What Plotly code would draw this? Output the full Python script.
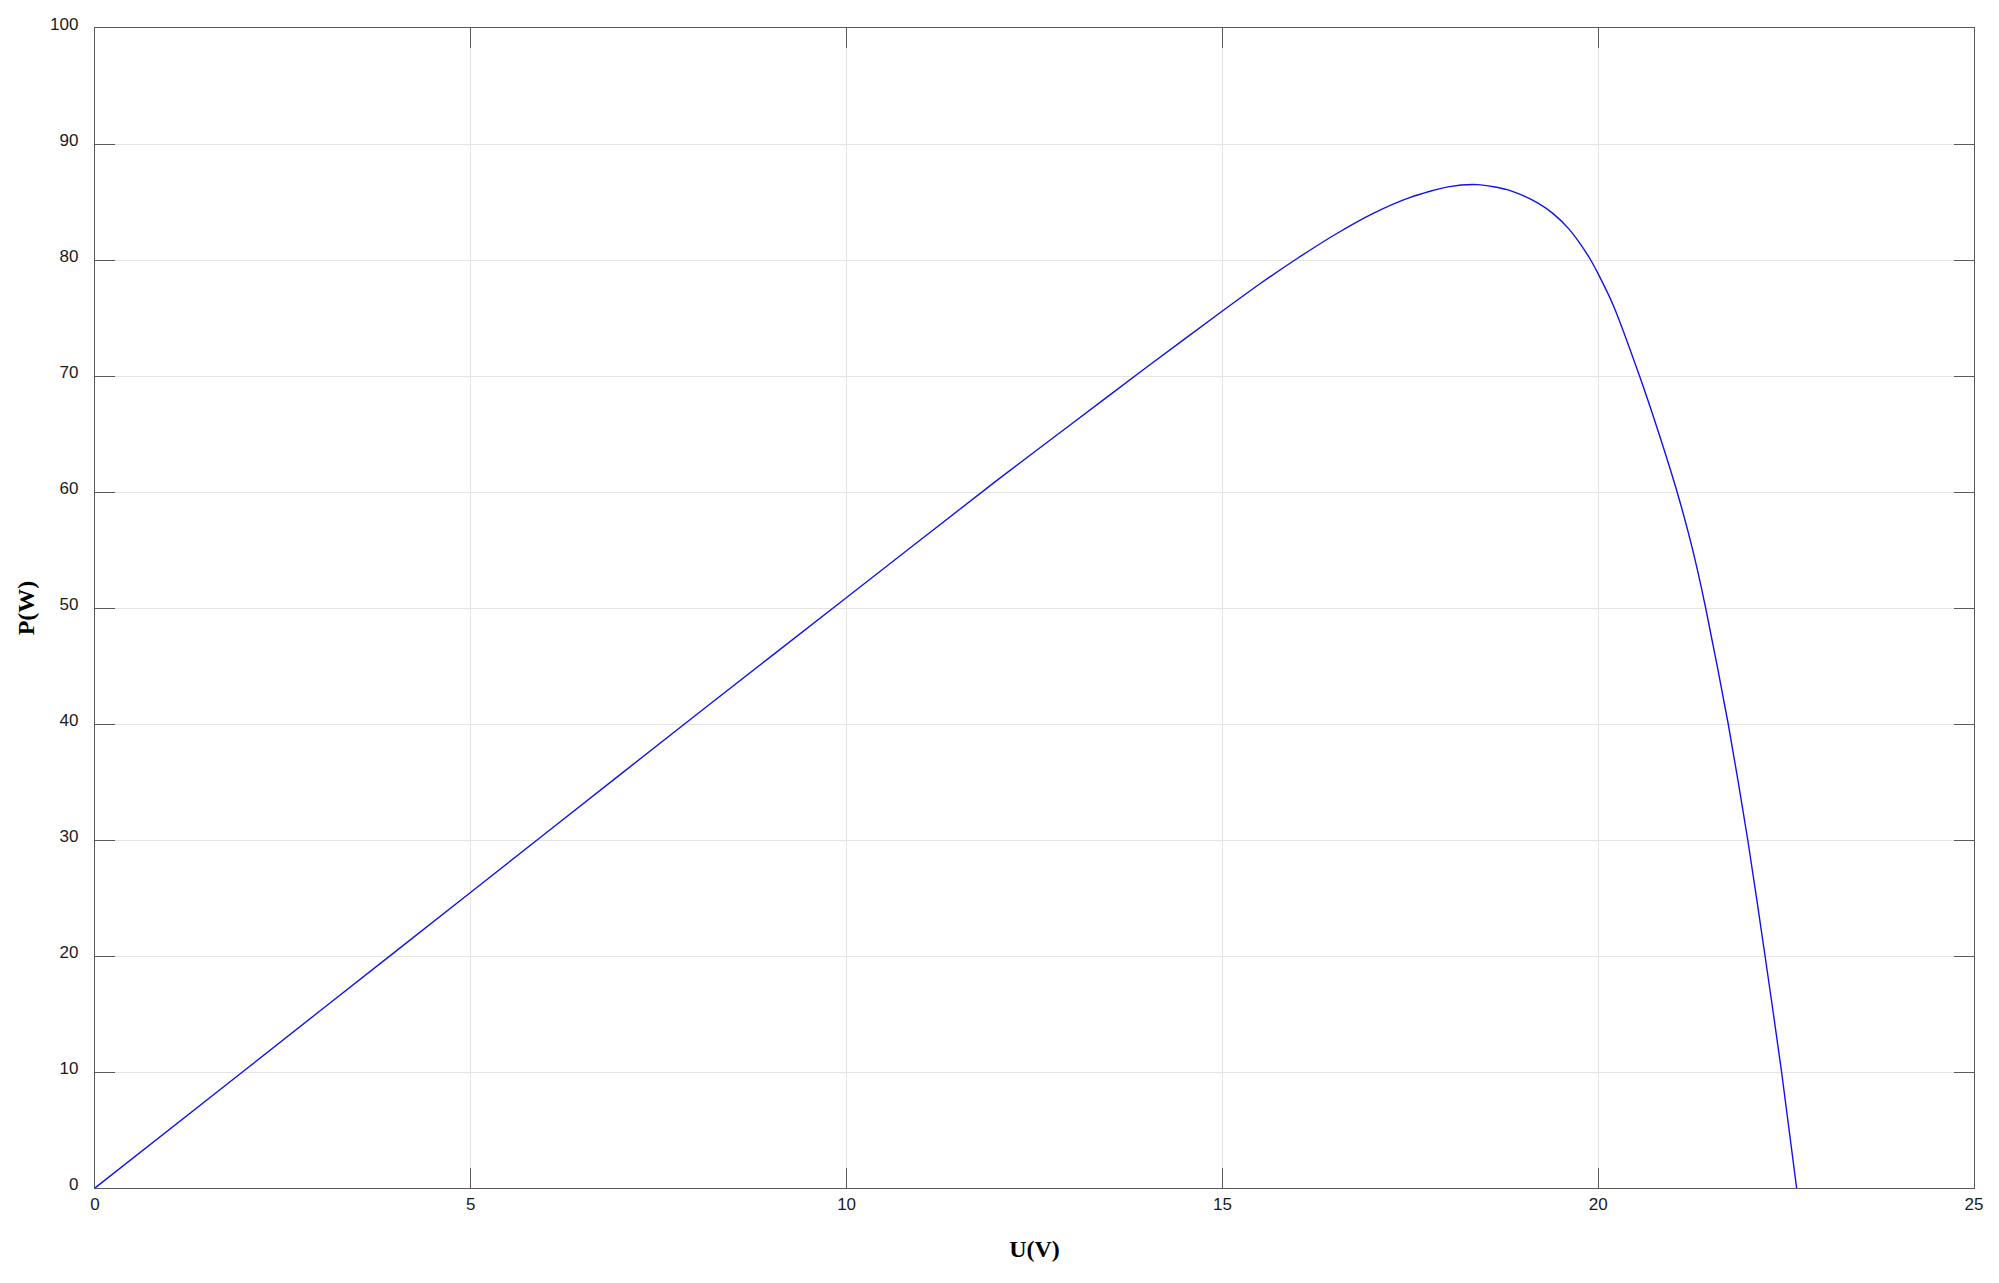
import plotly.graph_objects as go

# Curva P-V del panel
tension_v = [0, 2, 4, 6, 8, 10, 12, 13, 14, 15, 15.5, 16, 16.5, 17, 17.5, 18, 18.4,
             18.8, 19.0, 19.2, 19.4, 19.6, 19.75, 19.9, 20.0, 20.2, 20.55, 20.8, 21.05,
             21.25, 21.43, 21.73, 21.99, 22.22, 22.44, 22.64]
potencia_w = [0, 10.2, 20.4, 30.6, 40.8, 50.9, 61.0, 65.9, 70.8, 75.6, 77.95, 80.15,
              82.2, 84.0, 85.4, 86.3, 86.5, 86.05, 85.55, 84.9, 84.0, 82.75, 81.5, 80.0,
              78.8, 76.1, 70.0, 65.2, 60.0, 55.2, 50.0, 40.0, 30.0, 20.0, 10.0, 0]

x_ticks = [0, 5, 10, 15, 20, 25]
y_ticks = [0, 10, 20, 30, 40, 50, 60, 70, 80, 90, 100]

fig = go.Figure()

fig.add_trace(go.Scatter(x=tension_v, y=potencia_w, mode='lines',
                         line=dict(color='#1010f0', width=1.4, shape='spline', smoothing=0.7),
                         showlegend=False))

fuente_ticks = dict(family='Liberation Sans Narrow, Arial Narrow, Liberation Sans, Arial',
                    size=17, color='#1a1a1a')
fuente_titulo = dict(family='Liberation Serif, Times New Roman, serif', size=24, color='black')

ejes = dict(showline=True, linecolor='#5a5a5a', linewidth=1.3, mirror='ticks',
            ticks='inside', ticklen=20, tickwidth=1.3, tickcolor='#5a5a5a',
            showgrid=True, gridcolor='#e4e4e4', gridwidth=1, zeroline=False,
            tickfont=fuente_ticks, automargin=False)

fig.update_xaxes(range=[0, 25], tickvals=x_ticks, ticklabelstandoff=0,
                 title=dict(text='<b>U(V)</b>', font=fuente_titulo, standoff=27), **ejes)
fig.update_yaxes(range=[0, 100], tickvals=y_ticks, ticklabelstandoff=12, ticklabelshift=-4,
                 title=dict(text='<b>P(W)</b>', font=fuente_titulo, standoff=8), **ejes)

# la página añade 8 px de margen al cuerpo, se descuentan aquí
fig.update_layout(width=1999, height=1283,
                  margin=dict(l=87, r=33, t=20, b=103),
                  paper_bgcolor='white', plot_bgcolor='white')

fig.write_html("out.html")
